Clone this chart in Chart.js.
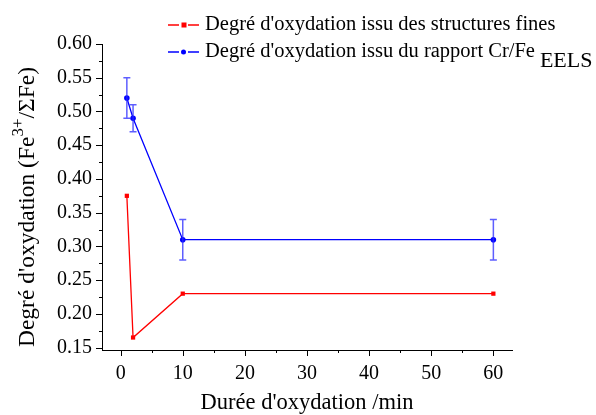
<!DOCTYPE html>
<html>
<head>
<meta charset="utf-8">
<script src="https://cdn.jsdelivr.net/npm/chart.js@4"></script>
<style>
  html, body { margin: 0; padding: 0; background: #fff; }
  #wrap { width: 596px; height: 415px; }
</style>
</head>
<body>
<div id="wrap"><canvas id="chart" width="596" height="415"></canvas></div>
<script>
// durées d'oxydation (min)
var durees = [1, 2, 10, 60];
// degré d'oxydation - structures fines
var degreFines = [0.375, 0.165, 0.23, 0.23];
// degré d'oxydation - rapport Cr/Fe EELS, avec barres d'erreur
var degreEels = [0.52, 0.49, 0.31, 0.31];
var erreurEels = [0.03, 0.02, 0.03, 0.03];
// graduations
var xTicks = [0, 10, 20, 30, 40, 50, 60];
var yTicks = [0.15, 0.20, 0.25, 0.30, 0.35, 0.40, 0.45, 0.50, 0.55, 0.60];

var serif = '"Liberation Serif", "Times New Roman", serif';

function points(vals) {
    return durees.map(function (d, i) { return { x: d, y: vals[i] }; });
}

// barres d'erreur, petites graduations, titres et légende
var dessinPlugin = {
    id: 'dessin',
    afterDatasetsDraw: function (chart) {
        var ctx = chart.ctx;
        var xs = chart.scales.x, ys = chart.scales.y;
        ctx.save();
        // barres d'erreur
        ctx.strokeStyle = 'rgba(40,40,255,0.75)';
        ctx.lineWidth = 1.5;
        for (var i = 0; i < durees.length; i++) {
            var px = xs.getPixelForValue(durees[i]);
            var top = ys.getPixelForValue(degreEels[i] + erreurEels[i]);
            var bot = ys.getPixelForValue(degreEels[i] - erreurEels[i]);
            ctx.beginPath();
            ctx.moveTo(px, top); ctx.lineTo(px, bot);
            ctx.moveTo(px - 3.5, top); ctx.lineTo(px + 3.5, top);
            ctx.moveTo(px - 3.5, bot); ctx.lineTo(px + 3.5, bot);
            ctx.stroke();
        }
        ctx.restore();
    },
    afterDraw: function (chart) {
        var ctx = chart.ctx;
        var xs = chart.scales.x, ys = chart.scales.y;
        var area = chart.chartArea;
        ctx.save();
        ctx.strokeStyle = '#000';
        ctx.lineWidth = 1;
        // graduations x
        for (var v = 0; v <= 60; v += 5) {
            var px = Math.round(xs.getPixelForValue(v)) + 0.5;
            var len = (v % 10 === 0) ? 6 : 3;
            ctx.beginPath();
            ctx.moveTo(px, area.bottom); ctx.lineTo(px, area.bottom + len);
            ctx.stroke();
        }
        // graduations y
        for (var k = 0; k <= 18; k++) {
            var val = 0.15 + k * 0.025;
            var py = Math.round(ys.getPixelForValue(val)) + 0.5;
            var l = (k % 2 === 0) ? 6 : 3;
            ctx.beginPath();
            ctx.moveTo(area.left - l, py); ctx.lineTo(area.left, py);
            ctx.stroke();
        }

        ctx.fillStyle = '#000';
        // titre x
        ctx.font = '22.5px ' + serif;
        ctx.textAlign = 'center';
        ctx.textBaseline = 'alphabetic';
        ctx.fillText("Durée d'oxydation /min", (area.left + area.right) / 2, 409);

        // titre y (avec exposant)
        ctx.save();
        ctx.translate(34, 207);
        ctx.rotate(-Math.PI / 2);
        var p1 = "Degré d'oxydation (Fe";
        var sup = "3+";
        var p2 = "/\u03A3Fe)";
        ctx.font = '23.5px ' + serif;
        var w1 = ctx.measureText(p1).width;
        var w3 = ctx.measureText(p2).width;
        ctx.font = '17px ' + serif;
        var w2 = ctx.measureText(sup).width;
        var x0 = -(w1 + w2 + w3) / 2;
        ctx.textAlign = 'left';
        ctx.font = '23.5px ' + serif;
        ctx.fillText(p1, x0, 0);
        ctx.font = '17px ' + serif;
        ctx.fillText(sup, x0 + w1, -11);
        ctx.font = '23.5px ' + serif;
        ctx.fillText(p2, x0 + w1 + w2, 0);
        ctx.restore();

        // légende
        var lignes = [
            { couleur: '#ff0000', forme: 'carre', texte: "Degré d'oxydation issu des structures fines", y: 25 },
            { couleur: '#0000ff', forme: 'rond', texte: "Degré d'oxydation issu du rapport Cr/Fe", y: 52 }
        ];
        ctx.font = '20.5px ' + serif;
        ctx.textBaseline = 'middle';
        lignes.forEach(function (lg) {
            ctx.strokeStyle = lg.couleur;
            ctx.fillStyle = lg.couleur;
            ctx.lineWidth = 1.3;
            ctx.beginPath();
            ctx.moveTo(168, lg.y); ctx.lineTo(179, lg.y);
            ctx.moveTo(188, lg.y); ctx.lineTo(199, lg.y);
            ctx.stroke();
            if (lg.forme === 'carre') {
                ctx.fillRect(181.5, lg.y - 2.5, 5, 5);
            } else {
                ctx.beginPath();
                ctx.arc(183.5, lg.y, 2.5, 0, Math.PI * 2);
                ctx.fill();
            }
            ctx.fillStyle = '#000';
            ctx.textAlign = 'left';
            ctx.fillText(lg.texte, 205, lg.y);
            if (lg.forme === 'rond') {
                var w = ctx.measureText(lg.texte).width;
                ctx.font = '22px ' + serif;
                ctx.fillText('EELS', 205 + w + 5, lg.y + 9);
                ctx.font = '20.5px ' + serif;
            }
        });
        ctx.restore();
    }
};

var ctx = document.getElementById('chart').getContext('2d');
var myChart = new Chart(ctx, {
    type: 'line',
    data: {
        datasets: [{
            label: 'Degré d\'oxydation issu des structures fines',
            data: points(degreFines),
            borderColor: '#ff0000',
            backgroundColor: '#ff0000',
            borderWidth: 1.3,
            pointStyle: 'rect',
            pointRadius: 3,
            pointBorderWidth: 0,
            tension: 0
        }, {
            label: 'Degré d\'oxydation issu du rapport Cr/Fe EELS',
            data: points(degreEels),
            borderColor: '#0000ff',
            backgroundColor: '#0000ff',
            borderWidth: 1.3,
            pointStyle: 'circle',
            pointRadius: 2.8,
            pointBorderWidth: 0,
            tension: 0
        }]
    },
    options: {
        responsive: false,
        animation: false,
        layout: { padding: { top: 44, right: 84, left: 0, bottom: 0 } },
        plugins: {
            legend: { display: false },
            tooltip: { enabled: false }
        },
        scales: {
            x: {
                type: 'linear',
                min: -3,
                max: 63,
                afterBuildTicks: function (scale) {
                    scale.ticks = xTicks.map(function (v) { return { value: v }; });
                },
                afterFit: function (scale) { scale.height = 65; },
                grid: { display: false, drawTicks: false },
                border: { display: true, color: '#000', width: 1 },
                ticks: {
                    padding: 12,
                    color: '#000',
                    maxRotation: 0,
                    font: { family: serif, size: 20 }
                }
            },
            y: {
                type: 'linear',
                min: 0.1465,
                max: 0.6,
                afterBuildTicks: function (scale) {
                    scale.ticks = yTicks.map(function (v) { return { value: v }; });
                },
                afterFit: function (scale) { scale.width = 102; },
                grid: { display: false, drawTicks: false },
                border: { display: true, color: '#000', width: 1 },
                ticks: {
                    padding: 10,
                    color: '#000',
                    font: { family: serif, size: 20 },
                    callback: function (v) { return v.toFixed(2); }
                }
            }
        }
    },
    plugins: [dessinPlugin]
});
</script>
</body>
</html>
